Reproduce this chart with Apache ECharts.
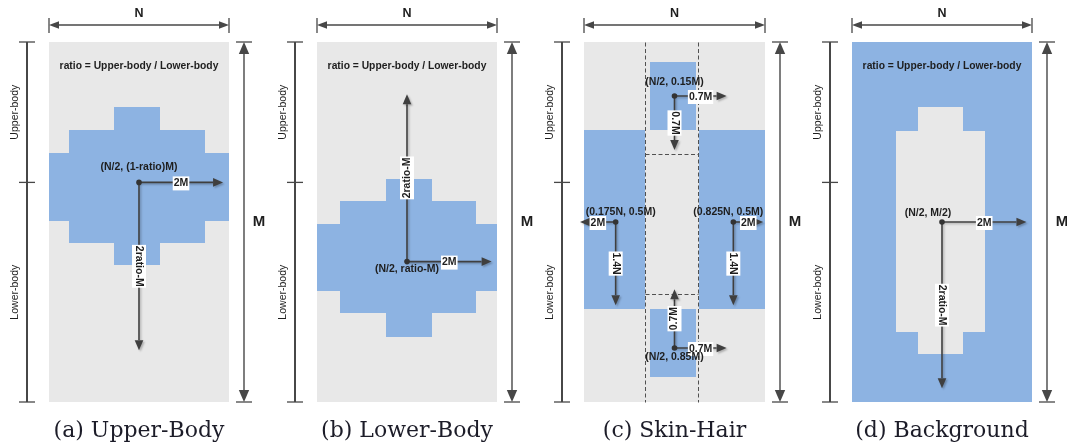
<!DOCTYPE html>
<html>
<head>
<meta charset="utf-8">
<script src="https://cdn.jsdelivr.net/npm/echarts@6/dist/echarts.min.js"></script>
<style>
  html, body { margin: 0; padding: 0; background: #ffffff; }
  #chart { width: 1067px; height: 448px; }
</style>
</head>
<body>
<div id="chart"></div>
<script>
// ---- Content (all shape coordinates are fractions of N horizontally, M vertically) ----
const captions = ['(a) Upper-Body', '(b) Lower-Body', '(c) Skin-Hair', '(d) Background'];
const sizeLabels = ['N', 'M'];
const bodyLabels = ['Upper-body', 'Lower-body'];
const ratioNote = 'ratio = Upper-body / Lower-body';
const ratioNotePanels = [true, true, false, true];
const bodySplit = 0.39;            // where the upper body ends, as a fraction of M
const ratioNotePos = [0.5, 0.066];

// Stepped masks, each tier is [x0, x1, y0, y1]
const upperBodyTiers = [[0.361, 0.619, 0.181, 0.619], [0.112, 0.869, 0.244, 0.557], [0, 1, 0.309, 0.496]];
const lowerBodyTiers = [[0.382, 0.637, 0.381, 0.819], [0.128, 0.884, 0.442, 0.754], [0, 1, 0.506, 0.692]];
const skinHairBlocks = [[0.365, 0.617, 0.056, 0.244], [0, 0.337, 0.244, 0.742], [0.635, 1, 0.244, 0.742], [0.365, 0.617, 0.742, 0.931]];
const backgroundHoleTiers = [[0.367, 0.617, 0.181, 0.868], [0.243, 0.739, 0.246, 0.806]];

// Dashed guides of the skin-hair layout: [x0, y0, x1, y1]
const skinHairGuides = [[0.337, 0, 0.337, 1], [0.632, 0, 0.632, 1], [0.337, 0.311, 0.632, 0.311], [0.337, 0.7, 0.632, 0.7]];

// Anchor points: [x, y, label]
const upperBodyPoints = [[0.5, 0.39, '(N/2, (1-ratio)M)']];
const lowerBodyPoints = [[0.5, 0.61, '(N/2, ratio-M)']];
const skinHairPoints = [
  [0.5, 0.15, '(N/2, 0.15M)'],
  [0.5, 0.85, '(N/2, 0.85M)'],
  [0.175, 0.5, '(0.175N, 0.5M)'],
  [0.825, 0.5, '(0.825N, 0.5M)']
];
const backgroundPoints = [[0.5, 0.5, '(N/2, M/2)']];

// Extent arrows: [x0, y0, x1, y1, label]
const upperBodyArrows = [[0.5, 0.39, 0.967, 0.39, '2M'], [0.5, 0.39, 0.5, 0.856, '2ratio-M']];
const lowerBodyArrows = [[0.5, 0.61, 0.97, 0.61, '2M'], [0.5, 0.61, 0.5, 0.145, '2ratio-M']];
const skinHairArrows = [
  [0.5, 0.15, 0.788, 0.15, '0.7M'], [0.5, 0.15, 0.5, 0.3, '0.7M'],
  [0.5, 0.85, 0.788, 0.85, '0.7M'], [0.5, 0.85, 0.5, 0.687, '0.7M'],
  [0.175, 0.5, -0.022, 0.5, '2M'], [0.175, 0.5, 0.175, 0.731, '1.4N'],
  [0.825, 0.5, 0.99, 0.5, '2M'], [0.825, 0.5, 0.825, 0.731, '1.4N']
];
const backgroundArrows = [[0.5, 0.5, 0.969, 0.5, '2M'], [0.5, 0.5, 0.5, 0.962, '2ratio-M']];

// ---- Layout and styling ----
const GRAY = '#e8e8e8';
const BLUE = '#8db3e2';
const INK = '#3f3f3f';
const TEXT = '#1e1e1e';
const SANS = '"Liberation Sans", Arial, sans-serif';
const SERIF = '"DejaVu Serif", serif';

const panelLeft = [49, 317, 584, 852];
const panelWidth = [180, 180, 181, 180];
const panelTop = 42, panelHeight = 360;

const baseColor = [GRAY, GRAY, GRAY, BLUE];
const shapeColor = [BLUE, BLUE, BLUE, GRAY];
const shapes = [upperBodyTiers, lowerBodyTiers, skinHairBlocks, backgroundHoleTiers];
const pointSets = [upperBodyPoints, lowerBodyPoints, skinHairPoints, backgroundPoints];
const arrowSets = [upperBodyArrows, lowerBodyArrows, skinHairArrows, backgroundArrows];
// pixel shift of each point label relative to its dot
const pointLabelShift = [
  [[0, -15]],
  [[0, 8]],
  [[0, -14], [0, 9.5], [5, -10], [-5, -10]],
  [[-14, -9]]
];

function arrowHead(tip, ux, uy, len, half, color) {
  const bx = tip[0] - ux * len, by = tip[1] - uy * len;
  return {
    type: 'polygon',
    shape: { points: [[tip[0], tip[1]], [bx - uy * half, by + ux * half], [bx + uy * half, by - ux * half]] },
    style: { fill: color }
  };
}

function unit(p0, p1) {
  const dx = p1[0] - p0[0], dy = p1[1] - p0[1];
  const l = Math.hypot(dx, dy) || 1;
  return [dx / l, dy / l];
}

function rectRender(color) {
  return function (params, api) {
    const a = api.coord([api.value(0), api.value(2)]);
    const b = api.coord([api.value(1), api.value(3)]);
    const x = Math.round(Math.min(a[0], b[0])), y = Math.round(Math.min(a[1], b[1]));
    const x2 = Math.round(Math.max(a[0], b[0])), y2 = Math.round(Math.max(a[1], b[1]));
    return { type: 'rect', shape: { x: x, y: y, width: x2 - x, height: y2 - y }, style: { fill: color } };
  };
}

function guideRender(params, api) {
  const a = api.coord([api.value(0), api.value(1)]);
  const b = api.coord([api.value(2), api.value(3)]);
  return {
    type: 'line',
    shape: { x1: Math.round(a[0]) + 0.5, y1: Math.round(a[1]) + 0.5, x2: Math.round(b[0]) + 0.5, y2: Math.round(b[1]) + 0.5 },
    style: { stroke: '#505050', lineWidth: 1, lineDash: [4, 2.5] }
  };
}

function arrowRender(list) {
  return function (params, api) {
    const a = list[params.dataIndex];
    const p0 = api.coord([a[0], a[1]]);
    const p1 = api.coord([a[2], a[3]]);
    const u = unit(p0, p1);
    const headLen = 10, half = 4.3;
    const shadow = { shadowColor: 'rgba(0,0,0,0.25)', shadowBlur: 2, shadowOffsetX: 1.5, shadowOffsetY: 1.5 };
    const head = arrowHead(p1, u[0], u[1], headLen, half, INK);
    head.style = Object.assign({ fill: INK }, shadow);
    const children = [
      { type: 'line', shape: { x1: p0[0], y1: p0[1], x2: p1[0] - u[0] * headLen, y2: p1[1] - u[1] * headLen },
        style: Object.assign({ stroke: INK, lineWidth: 1.6 }, shadow) },
      head
    ];
    const vertical = Math.abs(p1[0] - p0[0]) < 1;
    const rot = vertical ? (p1[1] > p0[1] ? -Math.PI / 2 : Math.PI / 2) : 0;
    children.push({
      type: 'text',
      x: (p0[0] + p1[0]) / 2,
      y: (p0[1] + p1[1]) / 2 + (vertical ? 0 : 1),
      rotation: rot,
      style: {
        text: a[4], font: 'bold 10.5px ' + SANS, fill: TEXT,
        align: 'center', verticalAlign: 'middle',
        backgroundColor: '#ffffff', padding: [2, 1, 1, 1]
      }
    });
    return { type: 'group', children: children };
  };
}

function pointRender(list, shifts) {
  return function (params, api) {
    const d = list[params.dataIndex];
    const s = shifts[params.dataIndex];
    const p = api.coord([d[0], d[1]]);
    return {
      type: 'group',
      children: [
        { type: 'circle', shape: { cx: p[0], cy: p[1], r: 2.8 }, style: { fill: '#333333' } },
        { type: 'text', x: p[0] + s[0], y: p[1] + s[1],
          style: { text: d[2], font: 'bold 10.5px ' + SANS, fill: TEXT, align: 'center', verticalAlign: 'middle' } }
      ]
    };
  };
}

function frameRender(panel) {
  return function (params, api) {
    const split = api.value(0);
    const tl = api.coord([0, 0]);
    const br = api.coord([1, 1]);
    const sp = api.coord([0, split]);
    const L = tl[0], T = tl[1], R = br[0], B = br[1];
    const cx = (L + R) / 2;
    const dim = '#474747';
    const els = [];

    // N: horizontal dimension arrow above the frame
    const ny = T - 17;
    els.push({ type: 'line', shape: { x1: L + 9, y1: ny, x2: R - 9, y2: ny }, style: { stroke: dim, lineWidth: 1.4 } });
    els.push(arrowHead([L, ny], -1, 0, 10, 3.8, dim));
    els.push(arrowHead([R, ny], 1, 0, 10, 3.8, dim));
    els.push({ type: 'line', shape: { x1: L, y1: ny - 7, x2: L, y2: ny + 8 }, style: { stroke: dim, lineWidth: 1.3 } });
    els.push({ type: 'line', shape: { x1: R, y1: ny - 7, x2: R, y2: ny + 8 }, style: { stroke: dim, lineWidth: 1.3 } });
    els.push({ type: 'text', x: cx, y: T - 28,
      style: { text: sizeLabels[0], font: 'bold 12.5px ' + SANS, fill: TEXT, align: 'center', verticalAlign: 'middle' } });

    // M: vertical dimension arrow right of the frame
    const mx = R + 15;
    els.push({ type: 'line', shape: { x1: mx, y1: T + 11, x2: mx, y2: B - 11 }, style: { stroke: dim, lineWidth: 1.4 } });
    els.push(arrowHead([mx, T], 0, -1, 12, 5.2, dim));
    els.push(arrowHead([mx, B], 0, 1, 12, 5.2, dim));
    els.push({ type: 'line', shape: { x1: mx - 8, y1: T, x2: mx + 8, y2: T }, style: { stroke: dim, lineWidth: 1.3 } });
    els.push({ type: 'line', shape: { x1: mx - 8, y1: B, x2: mx + 8, y2: B }, style: { stroke: dim, lineWidth: 1.3 } });
    els.push({ type: 'text', x: R + 30, y: (T + B) / 2,
      style: { text: sizeLabels[1], font: 'bold 15px ' + SANS, fill: TEXT, align: 'center', verticalAlign: 'middle' } });

    // Upper / lower body bar left of the frame
    const bx = L - 22;
    els.push({ type: 'line', shape: { x1: bx, y1: T, x2: bx, y2: B }, style: { stroke: dim, lineWidth: 2 } });
    [T, sp[1], B].forEach(function (y) {
      els.push({ type: 'line', shape: { x1: bx - 8, y1: y, x2: bx + 8, y2: y }, style: { stroke: dim, lineWidth: 1.3 } });
    });
    els.push({ type: 'text', x: bx - 12, y: (T + sp[1]) / 2, rotation: Math.PI / 2,
      style: { text: bodyLabels[0], font: '10.5px ' + SANS, fill: TEXT, align: 'center', verticalAlign: 'middle' } });
    els.push({ type: 'text', x: bx - 12, y: (sp[1] + B) / 2, rotation: Math.PI / 2,
      style: { text: bodyLabels[1], font: '10.5px ' + SANS, fill: TEXT, align: 'center', verticalAlign: 'middle' } });

    // Note on the ratio
    if (ratioNotePanels[panel]) {
      const np = api.coord(ratioNotePos);
      els.push({ type: 'text', x: np[0], y: np[1],
        style: { text: ratioNote, font: 'bold 10.3px ' + SANS, fill: TEXT, align: 'center', verticalAlign: 'middle' } });
    }

    // Caption
    els.push({ type: 'text', x: cx, y: B + 29,
      style: { text: captions[panel], font: '22px ' + SERIF, fill: '#1c1c28', align: 'center', verticalAlign: 'middle' } });

    return { type: 'group', children: els };
  };
}

const grids = [], xAxes = [], yAxes = [], series = [];
for (let i = 0; i < 4; i++) {
  grids.push({ left: panelLeft[i], top: panelTop, width: panelWidth[i], height: panelHeight });
  xAxes.push({ type: 'value', gridIndex: i, min: 0, max: 1, show: false });
  yAxes.push({ type: 'value', gridIndex: i, min: 0, max: 1, inverse: true, show: false });
  const axes = { xAxisIndex: i, yAxisIndex: i, silent: true, clip: false };
  series.push(Object.assign({ type: 'custom', data: [[0, 1, 0, 1]], renderItem: rectRender(baseColor[i]) }, axes));
  series.push(Object.assign({ type: 'custom', data: shapes[i], renderItem: rectRender(shapeColor[i]) }, axes));
  if (i === 2) {
    series.push(Object.assign({ type: 'custom', data: skinHairGuides, renderItem: guideRender }, axes));
  }
  series.push(Object.assign({ type: 'custom', data: [[bodySplit]], renderItem: frameRender(i) }, axes));
  series.push(Object.assign({ type: 'custom', data: arrowSets[i].map(function (a) { return a.slice(0, 4); }), renderItem: arrowRender(arrowSets[i]) }, axes));
  series.push(Object.assign({ type: 'custom', data: pointSets[i].map(function (p) { return p.slice(0, 2); }), renderItem: pointRender(pointSets[i], pointLabelShift[i]) }, axes));
}

const chart = echarts.init(document.getElementById('chart'), null, { renderer: 'canvas' });
chart.setOption({
  animation: false,
  backgroundColor: '#ffffff',
  grid: grids,
  xAxis: xAxes,
  yAxis: yAxes,
  series: series
});
</script>
</body>
</html>
